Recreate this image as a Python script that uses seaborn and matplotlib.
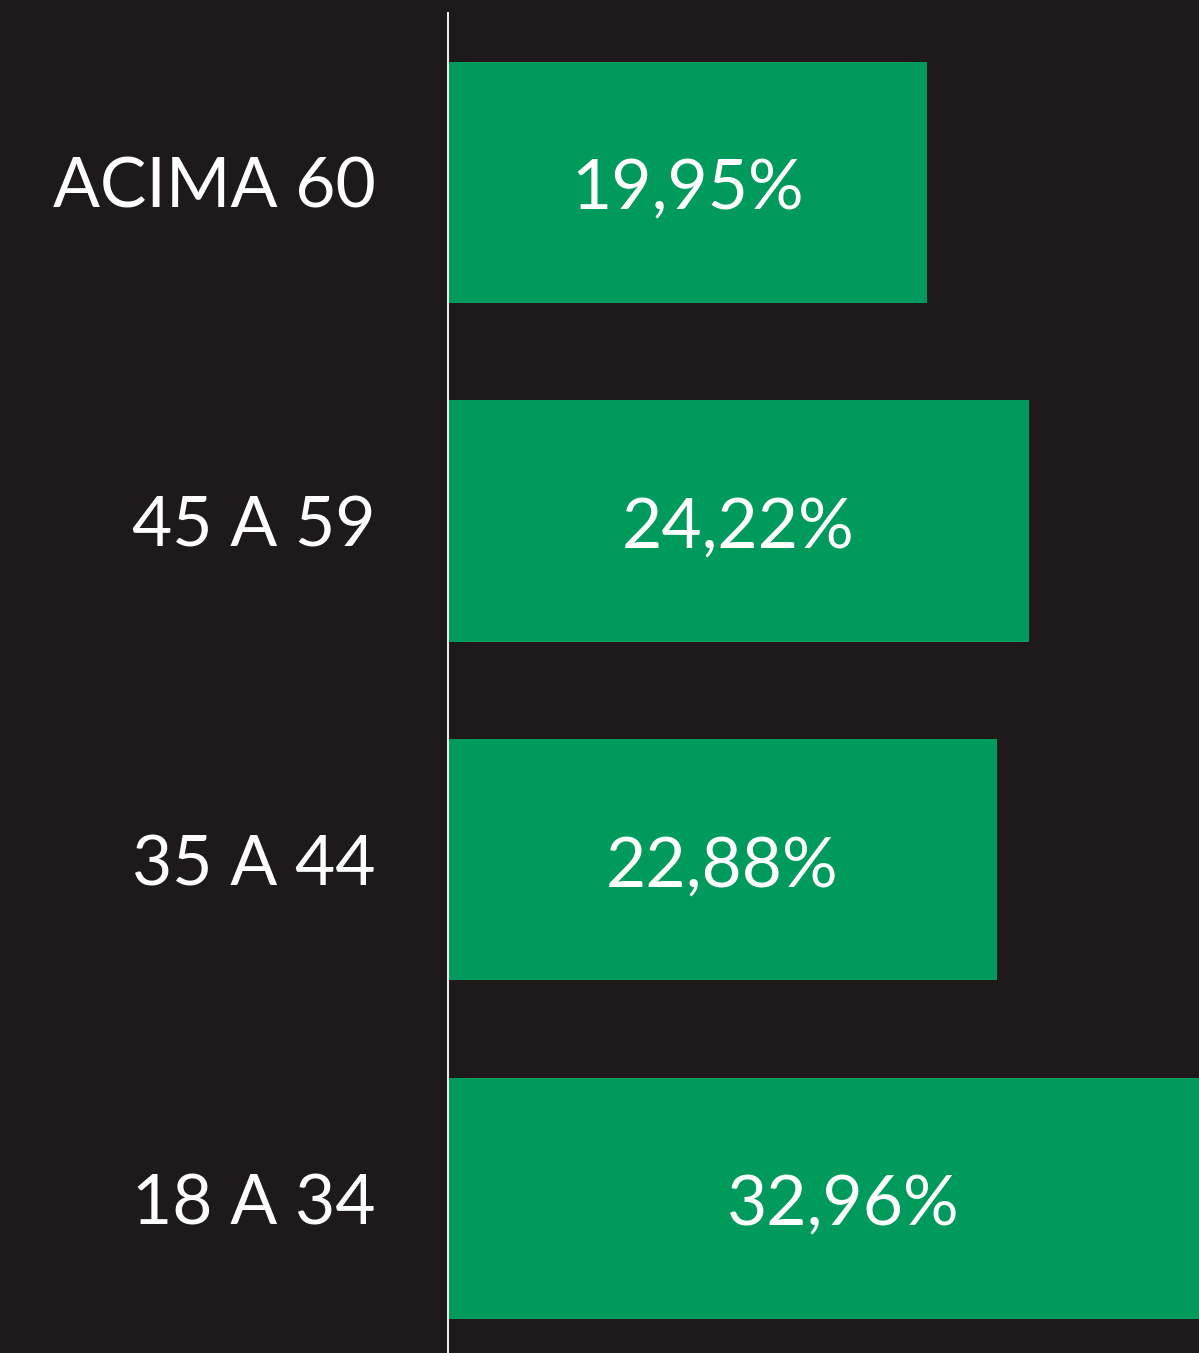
import matplotlib
matplotlib.use("Agg")
import matplotlib.pyplot as plt
import seaborn as sns
import pandas as pd

faixas = ["ACIMA 60", "45 A 59", "35 A 44", "18 A 34"]
percentuais = [19.95, 24.22, 22.88, 32.96]
rotulos = ["19,95%", "24,22%", "22,88%", "32,96%"]

fundo = "#1e1a1b"
verde = "#009a5c"

sns.set_style("dark")
plt.rcParams["font.family"] = ["Lato", "DejaVu Sans"]

df = pd.DataFrame({"faixa": faixas, "pct": percentuais})

fig = plt.figure(figsize=(11.99, 13.53), dpi=100, facecolor=fundo)
ax = fig.add_axes([0.3737, 0.0, 0.6263, 0.9904])
ax.set_facecolor(fundo)

sns.barplot(data=df, x="pct", y="faixa", orient="h", color=verde,
            saturation=1, width=0.712, linewidth=0, edgecolor=verde, ax=ax)

ax.set_xlim(0, 31.3)
ax.set_ylim(3.456, -0.5)

for i, (v, txt) in enumerate(zip(percentuais, rotulos)):
    ax.text(v / 2, i + 0.02, txt, ha="center", va="center", color="white",
            fontsize=50, clip_on=False)

ax.set_xlabel("")
ax.set_ylabel("")
ax.set_xticks([])
ax.tick_params(axis="y", length=0, pad=52, labelsize=50, labelcolor="white")
for s in ["top", "right", "bottom"]:
    ax.spines[s].set_visible(False)
ax.spines["left"].set_visible(True)
ax.spines["left"].set_color("#e8e8e8")
ax.spines["left"].set_linewidth(1.5)
ax.grid(False)

fig.savefig("out.png", dpi=100, facecolor=fundo)
